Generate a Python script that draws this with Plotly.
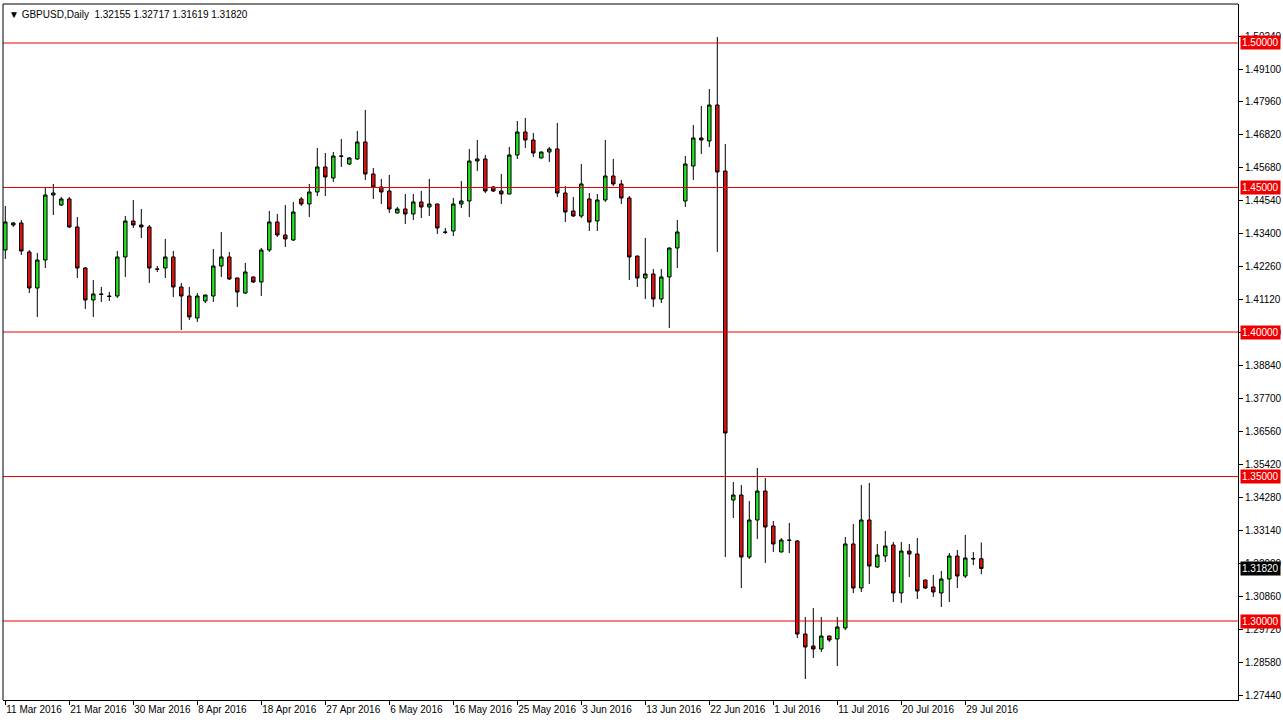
import plotly.graph_objects as go

opens = [1.42838, 1.43703, 1.43772, 1.42769, 1.41523, 1.42492, 1.44741, 1.44395, 1.44603, 1.43634,
         1.42215, 1.41108, 1.41316, 1.41246, 1.41246, 1.42596, 1.43841, 1.43703, 1.43634, 1.42181,
         1.42215, 1.42596, 1.41558, 1.41246, 1.40485, 1.41073, 1.41246, 1.42284, 1.42596, 1.41869,
         1.41350, 1.41904, 1.41731, 1.42838, 1.43807, 1.43357, 1.43184, 1.44603, 1.44430, 1.44845,
         1.45710, 1.45329, 1.46090, 1.45814, 1.45987, 1.46575, 1.45468, 1.45018, 1.44879, 1.44118,
         1.44257, 1.44084, 1.44499, 1.44326, 1.44430, 1.43461, 1.43495, 1.44430, 1.44533, 1.45917,
         1.45987, 1.45018, 1.44879, 1.44776, 1.46125, 1.46921, 1.46644, 1.46021, 1.46229, 1.46333,
         1.44810, 1.44187, 1.44014, 1.44603, 1.43841, 1.44568, 1.45398, 1.45122, 1.44637, 1.42630,
         1.41869, 1.42008, 1.41143, 1.41904, 1.42907, 1.44533, 1.45744, 1.46713, 1.46609, 1.47855,
         1.45571, 1.34188, 1.34361, 1.32216, 1.33496, 1.34499, 1.33288, 1.32389, 1.32804, 1.32769,
         1.29551, 1.29136, 1.29033, 1.29482, 1.29379, 1.29759, 1.32666, 1.31143, 1.33496, 1.31870,
         1.32250, 1.32631, 1.30970, 1.32423, 1.32320, 1.31420, 1.31178, 1.30970, 1.31455, 1.32250,
         1.31558, 1.32147, 1.32155]

highs = [1.44360, 1.43807, 1.43876, 1.42838, 1.42734, 1.45018, 1.45122, 1.44672, 1.44672, 1.43980,
         1.42250, 1.41800, 1.41558, 1.41385, 1.42803, 1.44014, 1.44568, 1.44257, 1.43703, 1.42284,
         1.43219, 1.42803, 1.41696, 1.41558, 1.41350, 1.41290, 1.42873, 1.43461, 1.42769, 1.41880,
         1.42388, 1.41920, 1.42907, 1.44187, 1.44084, 1.44395, 1.44499, 1.44672, 1.45122, 1.46367,
         1.46194, 1.46229, 1.46679, 1.46056, 1.46955, 1.47682, 1.45675, 1.45295, 1.45433, 1.44326,
         1.44776, 1.44776, 1.44879, 1.45295, 1.44440, 1.43599, 1.44637, 1.45225, 1.46333, 1.46644,
         1.46125, 1.45052, 1.45468, 1.46402, 1.47301, 1.47405, 1.46886, 1.46240, 1.46402, 1.47232,
         1.45052, 1.44672, 1.45814, 1.44810, 1.44776, 1.46644, 1.45987, 1.45260, 1.44706, 1.42640,
         1.43253, 1.42181, 1.42181, 1.42920, 1.43876, 1.46090, 1.47163, 1.47820, 1.48409, 1.50208,
         1.46506, 1.34811, 1.34707, 1.34153, 1.35295, 1.34949, 1.33461, 1.32873, 1.33392, 1.32804,
         1.30140, 1.30451, 1.30140, 1.29490, 1.30140, 1.32908, 1.33358, 1.34707, 1.34776, 1.32666,
         1.33115, 1.32735, 1.32735, 1.32666, 1.32873, 1.31430, 1.31593, 1.31731, 1.32354, 1.32458,
         1.32977, 1.32389, 1.32717]

lows = [1.42527, 1.43634, 1.42665, 1.41350, 1.40520, 1.42215, 1.44049, 1.44360, 1.43599, 1.41869,
        1.40797, 1.40520, 1.41039, 1.41073, 1.41177, 1.41904, 1.43599, 1.43253, 1.41696, 1.42077,
        1.41869, 1.41212, 1.40070, 1.40416, 1.40347, 1.41004, 1.41039, 1.41904, 1.41800, 1.40866,
        1.41316, 1.41696, 1.41246, 1.42769, 1.43288, 1.42942, 1.43149, 1.44360, 1.43980, 1.44706,
        1.44706, 1.45191, 1.45710, 1.45779, 1.45952, 1.45260, 1.44603, 1.44430, 1.44118, 1.44100,
        1.43738, 1.43876, 1.43945, 1.44014, 1.43392, 1.43392, 1.43322, 1.44291, 1.43980, 1.45571,
        1.44810, 1.44845, 1.44430, 1.44760, 1.45987, 1.46367, 1.46056, 1.46010, 1.45883, 1.44672,
        1.43807, 1.43980, 1.43945, 1.43495, 1.43495, 1.44499, 1.45052, 1.44430, 1.41800, 1.41558,
        1.41143, 1.40866, 1.41004, 1.40139, 1.42215, 1.44326, 1.45260, 1.46160, 1.46402, 1.42769,
        1.32216, 1.33565, 1.31143, 1.32147, 1.32839, 1.32008, 1.32389, 1.32380, 1.32354, 1.29413,
        1.27995, 1.28721, 1.28929, 1.29275, 1.28444, 1.29690, 1.30970, 1.31005, 1.31282, 1.31835,
        1.32043, 1.30659, 1.30624, 1.31524, 1.30763, 1.31108, 1.30832, 1.30486, 1.30659, 1.31143,
        1.31489, 1.31939, 1.31619]

closes = [1.43807, 1.43772, 1.42803, 1.41523, 1.42492, 1.44741, 1.44810, 1.44603, 1.43634, 1.42215,
          1.41108, 1.41316, 1.41300, 1.41230, 1.42596, 1.43841, 1.43703, 1.43634, 1.42215, 1.42170,
          1.42596, 1.41558, 1.41246, 1.40520, 1.41246, 1.41281, 1.42284, 1.42596, 1.41835, 1.41385,
          1.42077, 1.41731, 1.42838, 1.43807, 1.43357, 1.43219, 1.44153, 1.44430, 1.44845, 1.45710,
          1.45364, 1.46090, 1.46080, 1.46021, 1.46575, 1.45468, 1.45018, 1.44845, 1.44257, 1.44257,
          1.44084, 1.44499, 1.44326, 1.44430, 1.43599, 1.43450, 1.44430, 1.44533, 1.45917, 1.45987,
          1.44879, 1.44879, 1.44776, 1.46125, 1.46921, 1.46644, 1.46194, 1.46229, 1.46333, 1.44810,
          1.44153, 1.44014, 1.45122, 1.43807, 1.44568, 1.45398, 1.45122, 1.44637, 1.42596, 1.41869,
          1.42008, 1.41143, 1.41904, 1.42907, 1.43461, 1.45814, 1.46713, 1.46644, 1.47855, 1.45537,
          1.36506, 1.34361, 1.32216, 1.33496, 1.34499, 1.33254, 1.32666, 1.32804, 1.32790, 1.29551,
          1.29102, 1.29033, 1.29482, 1.29344, 1.29794, 1.32666, 1.31143, 1.33496, 1.31904, 1.32285,
          1.32596, 1.30970, 1.32423, 1.32320, 1.31039, 1.31143, 1.31005, 1.31455, 1.32250, 1.31558,
          1.32181, 1.32160, 1.31820]

date_labels = ["11 Mar 2016", "21 Mar 2016", "30 Mar 2016", "8 Apr 2016", "18 Apr 2016",
               "27 Apr 2016", "6 May 2016", "16 May 2016", "25 May 2016", "3 Jun 2016",
               "13 Jun 2016", "22 Jun 2016", "1 Jul 2016", "11 Jul 2016", "20 Jul 2016",
               "29 Jul 2016"]
label_step = 8

price_ticks = [1.50240, 1.49100, 1.47960, 1.46820, 1.45680, 1.44540, 1.43400, 1.42260,
               1.41120, 1.39980, 1.38840, 1.37700, 1.36560, 1.35420, 1.34280, 1.33140,
               1.32000, 1.30860, 1.29720, 1.28580, 1.27440]

levels = [1.50000, 1.45000, 1.40000, 1.35000, 1.30000]
last_price = 1.31820
title_text = "GBPUSD,Daily  1.32155 1.32717 1.31619 1.31820"

bars = list(range(len(opens)))
W, H = 1283, 722
ML, MR, MT, MB = 3, 45, 4, 22
plot_w = W - ML - MR
plot_h = H - MT - MB
px_per_bar = 8.0
x0 = -2.3 / px_per_bar
x1 = x0 + plot_w / px_per_bar
y_top = 1.51349
y_bot = 1.27268
half_px = (y_top - y_bot) / plot_h / 2.0

FONT = "Liberation Sans"

fig = go.Figure()
fig.add_trace(go.Candlestick(
    x=bars, open=opens, high=highs, low=lows, close=closes,
    increasing=dict(line=dict(color="#000000", width=1), fillcolor="#22dd22"),
    decreasing=dict(line=dict(color="#000000", width=1), fillcolor="#dd1111"),
    whiskerwidth=0, hoverinfo="skip", showlegend=False,
))

shapes = []
# level lines drawn as 1-px filled bands (avoids stroke rendering artefacts)
for lv in levels:
    shapes.append(dict(type="rect", xref="paper", yref="y", x0=0, x1=1,
                       y0=lv - half_px, y1=lv + half_px,
                       fillcolor="#f00000", line=dict(width=0), layer="above"))
# plot frame: top and left borders
shapes.append(dict(type="line", xref="paper", yref="paper", x0=0, x1=1, y0=1, y1=1,
                   line=dict(color="#000000", width=1)))
shapes.append(dict(type="line", xref="paper", yref="paper", x0=0, x1=0, y0=0, y1=1,
                   line=dict(color="#000000", width=1)))

annotations = []
for lv in levels:
    annotations.append(dict(xref="paper", yref="y", x=1, y=lv, xanchor="left", yanchor="middle",
                            xshift=2, text=f"{lv:.5f}", showarrow=False,
                            font=dict(family=FONT, size=10, color="#ffffff"),
                            bgcolor="#ee0000", borderpad=1))
annotations.append(dict(xref="paper", yref="y", x=1, y=last_price, xanchor="left", yanchor="middle",
                        xshift=2, text=f"{last_price:.5f}", showarrow=False,
                        font=dict(family=FONT, size=10, color="#ffffff"),
                        bgcolor="#000000", borderpad=1))
annotations.append(dict(xref="paper", yref="paper", x=0, y=1, xanchor="left", yanchor="top",
                        xshift=4, yshift=-3, text="▼ " + title_text, showarrow=False,
                        font=dict(family=FONT, size=10, color="#000000")))

fig.update_layout(
    width=W, height=H,
    margin=dict(l=ML, r=MR, t=MT, b=MB, pad=0, autoexpand=False),
    paper_bgcolor="#ffffff", plot_bgcolor="#ffffff",
    boxgap=0.38, hovermode=False, dragmode=False,
    shapes=shapes, annotations=annotations,
    xaxis=dict(range=[x0, x1], rangeslider=dict(visible=False), showgrid=False, zeroline=False,
               automargin=False, tickangle=0, showspikes=False,
               tickmode="array", tickvals=[i * label_step for i in range(len(date_labels))],
               ticktext=date_labels, ticks="outside", ticklen=4, tickcolor="#000000",
               ticklabelposition="outside right",
               tickfont=dict(family=FONT, size=10, color="#000000"),
               showline=True, linecolor="#000000", linewidth=1, mirror=False),
    yaxis=dict(range=[y_bot, y_top], side="right", showgrid=False, zeroline=False,
               automargin=False, showspikes=False,
               tickmode="array", tickvals=price_ticks,
               ticktext=[f"{v:.5f}" for v in price_ticks],
               ticks="outside", ticklen=4, tickcolor="#000000",
               tickfont=dict(family=FONT, size=10, color="#000000"),
               showline=True, linecolor="#000000", linewidth=1, mirror=False),
)

fig.write_html("out.html", config={"staticPlot": True, "displayModeBar": False},
               post_script="document.body.style.margin='0';document.body.style.overflow='hidden';")
